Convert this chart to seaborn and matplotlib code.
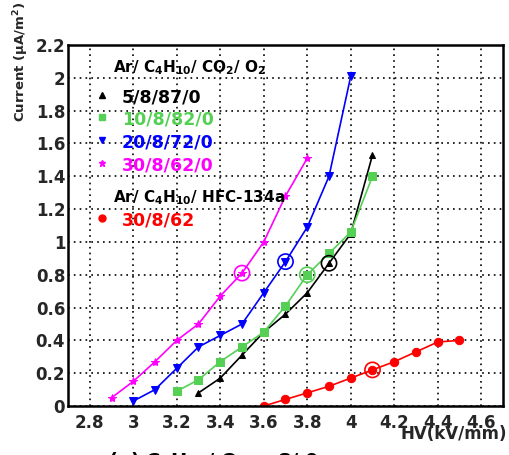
import pandas as pd
import seaborn as sns
import matplotlib.pyplot as plt

# Ar/C4H10/CO2/O2 mixtures, HV (kV/mm) vs current (uA/m2)
hv_5 = [3.3, 3.4, 3.5, 3.6, 3.7, 3.8, 3.9, 4.0, 4.1]
cur_5 = [0.08, 0.17, 0.31, 0.45, 0.56, 0.69, 0.87, 1.05, 1.53]
hv_10 = [3.2, 3.3, 3.4, 3.5, 3.6, 3.7, 3.8, 3.9, 4.0, 4.1]
cur_10 = [0.09, 0.16, 0.27, 0.36, 0.45, 0.61, 0.80, 0.93, 1.06, 1.40]
hv_20 = [3.0, 3.1, 3.2, 3.3, 3.4, 3.5, 3.6, 3.7, 3.8, 3.9, 4.0]
cur_20 = [0.03, 0.10, 0.23, 0.36, 0.43, 0.50, 0.69, 0.88, 1.09, 1.40, 2.01]
hv_30 = [2.9, 3.0, 3.1, 3.2, 3.3, 3.4, 3.5, 3.6, 3.7, 3.8]
cur_30 = [0.05, 0.15, 0.27, 0.40, 0.50, 0.67, 0.81, 1.00, 1.28, 1.51]
# Ar/C4H10/HFC-134a
hv_hfc = [3.6, 3.7, 3.8, 3.9, 4.0, 4.1, 4.2, 4.3, 4.4, 4.5]
cur_hfc = [0.0, 0.04, 0.08, 0.12, 0.17, 0.22, 0.27, 0.33, 0.39, 0.40]

labels = ['5/8/87/0', '10/8/82/0', '20/8/72/0', '30/8/62/0', '30/8/62']
colors = ['black', '#55d055', '#0000ff', '#ff00ff', '#ff0000']
markers = ['^', 's', 'v', '*', 'o']
msizes = [5, 6, 5.5, 6, 6]

# operating points (circled)
op_hv = [3.9, 3.8, 3.7, 3.5, 4.1]
op_cur = [0.87, 0.80, 0.88, 0.81, 0.22]

series = [(hv_5, cur_5), (hv_10, cur_10), (hv_20, cur_20), (hv_30, cur_30), (hv_hfc, cur_hfc)]

sns.set_theme(style='white')
plt.rcParams['font.family'] = ['DejaVu Sans']
plt.rcParams['font.weight'] = 'bold'
plt.rcParams['mathtext.default'] = 'bf'

fig = plt.figure(figsize=(5.09, 4.55), dpi=100)
ax = fig.add_axes([0.1336, 0.1077, 0.8546, 0.7933])

for (x, y), lab, c, m, ms in zip(series, labels, colors, markers, msizes):
    df = pd.DataFrame({'HV': x, 'I': y})
    sns.lineplot(data=df, x='HV', y='I', color=c, marker=m, markersize=ms,
                 markeredgecolor=c, linewidth=1.2, ax=ax, legend=False)

for x, y, c in zip(op_hv, op_cur, colors):
    sns.scatterplot(x=[x], y=[y], s=120, facecolor='none', edgecolor=c,
                    linewidth=1.2, ax=ax, legend=False, zorder=5)

ax.set_xlim(2.7, 4.7)
ax.set_ylim(0, 2.2)
ax.set_xticks([2.8, 3.0, 3.2, 3.4, 3.6, 3.8, 4.0, 4.2, 4.4, 4.6])
ax.set_xticklabels(['2.8', '3', '3.2', '3.4', '3.6', '3.8', '4', '4.2', '4.4', '4.6'])
ax.set_yticks([0, 0.2, 0.4, 0.6, 0.8, 1.0, 1.2, 1.4, 1.6, 1.8, 2.0, 2.2])
ax.set_yticklabels(['0', '0.2', '0.4', '0.6', '0.8', '1', '1.2', '1.4', '1.6', '1.8', '2', '2.2'])
ax.xaxis.set_minor_locator(plt.MultipleLocator(0.05))
ax.yaxis.set_minor_locator(plt.MultipleLocator(0.05))
ax.tick_params(which='both', direction='in', color='black', width=1.3,
               top=False, right=False, labelsize=12)
ax.tick_params(which='major', length=8)
ax.tick_params(which='minor', length=4)
ax.tick_params(axis='x', pad=6)
ax.tick_params(axis='y', pad=2)
ax.grid(True, which='major', color='black', linestyle=(0, (1, 2.5)), linewidth=1.2)
for s in ax.spines.values():
    s.set_color('black')
    s.set_linewidth(1.8)

ax.set_xlabel('HV(kV/mm)', fontsize=12, fontweight='bold', loc='right')
ax.xaxis.set_label_coords(1.01, -0.052)
ax.set_ylabel('Current ($\\mathregular{\\mu}$A/m$^2$)', fontsize=9.5, fontweight='bold', loc='top')
ax.yaxis.set_label_coords(-0.085, 1.119)

# legend block
def px(xp, yp):
    return ((xp - 68) / 435, (406 - yp) / 361)

ax.text(*px(113, 68), 'Ar/ C$_4$H$_{10}$/ CO$_2$/ O$_2$', transform=ax.transAxes,
        fontsize=11, va='center', color='black')
ax.text(*px(113, 198), 'Ar/ C$_4$H$_{10}$/ HFC-134a', transform=ax.transAxes,
        fontsize=11, va='center', color='black')
ys = [97, 119, 142, 165, 220]
for yy, lab, c, m in zip(ys, labels, colors, markers):
    ax.plot(*px(102, yy - 2), marker=m, color=c, markersize=5, transform=ax.transAxes,
            linestyle='none')
    ax.text(*px(122, yy), lab, transform=ax.transAxes, fontsize=12.5,
            va='center', color=c)

fig.text(108 / 509, (455 - 451) / 455, '(a) C$_4$H$_{10}$/ O$_2$ = 8/ 0',
         fontsize=14, va='top', ha='left', color='black')

fig.savefig('out.png', dpi=100)
